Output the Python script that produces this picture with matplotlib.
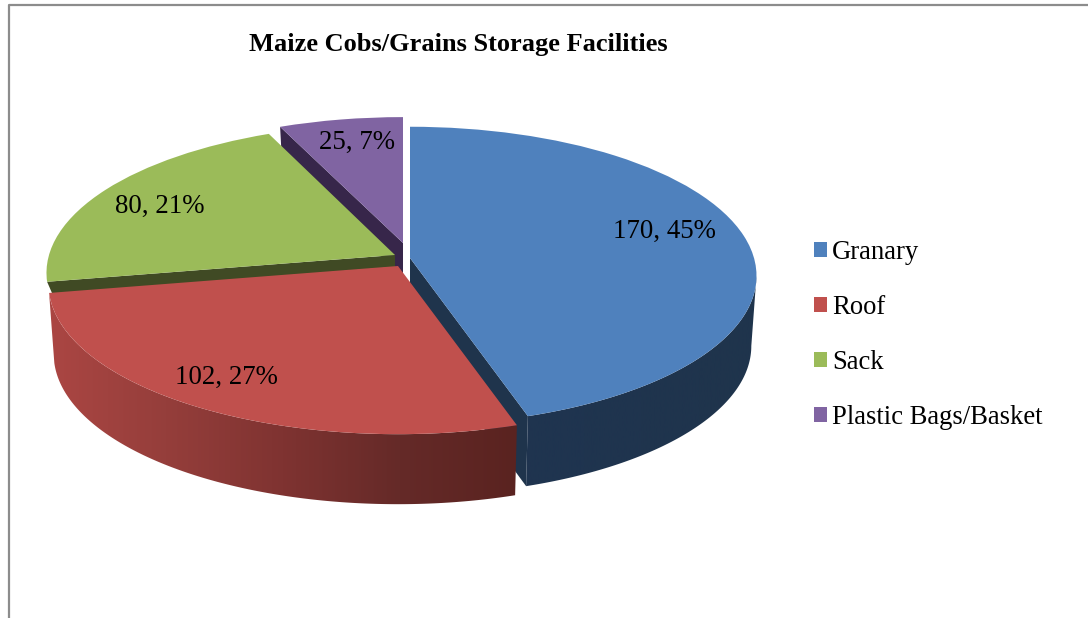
import numpy as np
import matplotlib
matplotlib.use("Agg")
import matplotlib.pyplot as plt
from matplotlib.patches import Polygon
from matplotlib.transforms import Transform
from matplotlib.colors import LinearSegmentedColormap

categories = ["Granary", "Roof", "Sack", "Plastic Bags/Basket"]
values = [170, 102, 80, 25]
percents = [45, 27, 21, 7]
title = "Maize Cobs/Grains Storage Facilities"

colors = ["#4f81bd", "#c0504d", "#9bbb59", "#8064a2"]
cut_colors = ["#1f344c", "#5a2320", "#404a24", "#37264a"]
label_pos = [(664, 231), (226, 377), (160, 206), (357, 142)]
# where the point of each slice ended up on the page, in pixels
apex = [(410, 258), (398, 266), (395, 255), (403, 243)]
rad_x = [344, 347, 346, 337]
rad_y = [147, 148, 147, 141]
cut_depth = [70, 0, 12, 34]

C = 0.12
DEPTH = 70
SHRINK = 0.985  # lower rim is a bit narrower than the top one


class Tilt(Transform):
    # unit circle -> tilted disc seen in perspective, in pixels
    input_dims = 2
    output_dims = 2

    def __init__(self, x0, y0, rx, ry):
        super().__init__()
        self.x0, self.y0, self.rx, self.ry = x0, y0, rx, ry

    def transform_non_affine(self, xy):
        xy = np.asarray(xy)
        w = 1 + C * xy[:, 1]
        return np.column_stack([self.x0 + self.rx * xy[:, 0] / w,
                                self.y0 - self.ry * xy[:, 1] / w])


def lowered(pts, x0, depth):
    low = pts + [0, depth]
    low[:, 0] = x0 + (low[:, 0] - x0) * SHRINK
    return low[::-1]


plt.rcParams["font.family"] = ["Liberation Serif", "DejaVu Serif"]
fig = plt.figure(figsize=(10.88, 6.18), dpi=100)
ax = fig.add_axes([0, 0, 1, 1])

wedges, _ = ax.pie(values, colors=colors, startangle=90, counterclock=False,
                   wedgeprops=dict(linewidth=0))
ax.set_aspect("auto")
ax.axis("off")

order = {3: 2, 2: 6, 0: 10, 1: 14}
for i, w in enumerate(wedges):
    tr = Tilt(apex[i][0], apex[i][1], rad_x[i], rad_y[i])
    w.set_transform(tr + ax.transData)
    w.set_zorder(order[i] + 2)

    t1, t2 = np.radians(w.theta1), np.radians(w.theta2)

    # flat cut face on the side that looks at the viewer
    edge = t1 if i == 0 else t2
    cut_edge = np.array([[0, 0], [np.cos(edge), np.sin(edge)]])
    top = tr.transform_non_affine(cut_edge)
    if cut_depth[i] > 0:
        cut = np.vstack([top, lowered(top, apex[i][0], cut_depth[i])])
        ax.add_patch(Polygon(cut, closed=True, fc=cut_colors[i], ec="none", zorder=order[i]))

    # outer wall, only the front part of the rim shows, stop at the rightmost point
    if i in (0, 1):
        th = np.linspace(t1, min(t2, np.arcsin(-C)), 200)
        arc = tr.transform_non_affine(np.column_stack([np.cos(th), np.sin(th)]))
        wall = np.vstack([arc, lowered(arc, apex[i][0], DEPTH)])
        clip = Polygon(wall, closed=True, fc="none", ec="none", transform=ax.transData)
        ax.add_patch(clip)
        if i == 0:
            cmap = LinearSegmentedColormap.from_list("w0", ["#1f3450", "#1f344c"])
        else:
            cmap = LinearSegmentedColormap.from_list(
                "w1", ["#ab4643", "#953e3b", "#7f3331", "#652a28", "#5a2320"])
        x0, x1 = wall[:, 0].min(), wall[:, 0].max()
        im = ax.imshow(np.linspace(0, 1, 256)[None, :], cmap=cmap, aspect="auto",
                       extent=(x0, x1, 618, 0), zorder=order[i] + 1)
        im.set_clip_path(clip)

ax.set_xlim(0, 1088)
ax.set_ylim(618, 0)

for v, p, (x, y) in zip(values, percents, label_pos):
    ax.text(x, y, f"{v}, {p}%", ha="center", va="center", fontsize=19.4, color="black", zorder=30)

ax.text(458, 44, title, ha="center", va="center", fontsize=19, fontweight="bold", zorder=30)

leg = ax.legend(wedges, categories, loc="upper left", bbox_to_anchor=(814, 240),
                bbox_transform=ax.transData, frameon=False, fontsize=19.2,
                handlelength=0.49, handleheight=0.49, handletextpad=0.19,
                labelspacing=1.12, borderpad=0, borderaxespad=0)
leg.set_zorder(30)

# chart border, only top and left are on the page
ax.plot([9, 9, 1088], [618, 5, 5], color="#8c8c8c", lw=1.6, zorder=40, clip_on=False)

fig.savefig("out.png", dpi=100)
